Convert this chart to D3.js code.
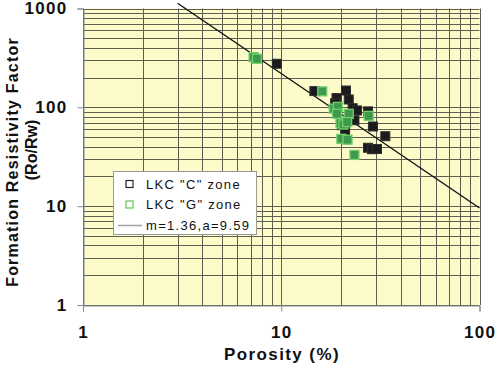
<!DOCTYPE html>
<html>
<head>
<meta charset="utf-8">
<script src="https://cdn.jsdelivr.net/npm/d3@7"></script>
<style>
   body { margin: 0; background: #fff; }
   svg text { font-family: Arial, "Liberation Sans", sans-serif; }
</style>
</head>
<body>
<svg id="chart" width="500" height="366"></svg>
<script>
// LKC "C" zone samples: porosity (%) and formation factor
var cPorosity = [9.5, 14.7, 21.2, 19.0, 21.9, 18.7, 22.9, 24.1, 27.4, 23.4, 29.0, 20.3, 21.0, 33.5, 27.4, 28.7, 30.4];
var cFactor   = [276, 146, 148, 124, 120, 110, 98, 93, 91, 74, 64, 66, 58, 51, 39, 37.7, 37.9];

// LKC "G" zone samples
var gPorosity = [7.25, 7.54, 16.1, 18.4, 19.3, 19.1, 21.9, 27.6, 19.9, 20.6, 21.5, 20.1, 21.6, 23.4];
var gFactor   = [322, 310, 145, 97, 101, 86, 86, 82, 69, 67, 71, 48, 47, 33];

// Archie fit F = a / phi^m (phi as fraction)
var fitM = 1.36,
    fitA = 9.59;
var fitRange = [3, 100];

var xTicks = [1, 10, 100];
var yTicks = [1, 10, 100, 1000];
var legendLabels = ['LKC "C" zone', 'LKC "G" zone', 'm=1.36,a=9.59'];

function drawChart() {
   var svg = d3.select('#chart');

   var x = d3.scaleLog().domain([1, 100]).range([83, 479.5]);
   var y = d3.scaleLog().domain([1, 1000]).range([305, 8.5]);

   // plot background
   svg.append('rect')
      .attr('x', x(1)).attr('y', y(1000))
      .attr('width', x(100) - x(1))
      .attr('height', y(1) - y(1000))
      .attr('fill', '#fefbcb');

   // grid on every log step
   var xGrid = x.ticks(), yGrid = y.ticks();
   svg.append('g').selectAll('line').data(xGrid).enter().append('line')
      .attr('x1', function(d) { return Math.round(x(d)) + 0.5; })
      .attr('x2', function(d) { return Math.round(x(d)) + 0.5; })
      .attr('y1', y(1000)).attr('y2', y(1))
      .attr('stroke', '#5e5e52').attr('stroke-width', 1);
   svg.append('g').selectAll('line').data(yGrid).enter().append('line')
      .attr('y1', function(d) { return Math.round(y(d)) + 0.5; })
      .attr('y2', function(d) { return Math.round(y(d)) + 0.5; })
      .attr('x1', x(1)).attr('x2', x(100))
      .attr('stroke', '#5e5e52').attr('stroke-width', 1);

   // axes
   var xAxis = d3.axisBottom(x).tickValues(xTicks).tickSize(6).tickFormat(d3.format('d'));
   var yAxis = d3.axisLeft(y).tickValues(yTicks).tickSize(6).tickFormat(d3.format('d'));

   var gx = svg.append('g').attr('transform', 'translate(0,' + (Math.round(y(1)) + 0.5) + ')').call(xAxis);
   var gy = svg.append('g').attr('transform', 'translate(' + (Math.round(x(1)) + 0.5) + ',0)').call(yAxis);

   [gx, gy].forEach(function(g) {
      g.select('.domain').attr('stroke', '#8a8a8a');
      g.selectAll('.tick line').attr('stroke', '#8a8a8a');
      g.selectAll('.tick text')
         .attr('fill', '#111')
         .style('font-size', '17px')
         .style('font-weight', 'bold')
         .style('letter-spacing', '1.3px');
   });
   gx.selectAll('.tick text').attr('y', 20);
   gy.selectAll('.tick text').attr('x', -16);

   // axis titles
   svg.append('text')
      .attr('x', 282).attr('y', 360)
      .attr('text-anchor', 'middle')
      .attr('fill', '#111')
      .style('font-size', '17px').style('font-weight', 'bold').style('letter-spacing', '1.4px')
      .text('Porosity (%)');

   svg.append('text')
      .attr('transform', 'translate(18,162) rotate(-90)')
      .attr('text-anchor', 'middle')
      .attr('fill', '#111')
      .style('font-size', '16px').style('font-weight', 'bold').style('letter-spacing', '1.2px')
      .text('Formation Resistivity Factor');

   svg.append('text')
      .attr('transform', 'translate(37,150) rotate(-90)')
      .attr('text-anchor', 'middle')
      .attr('fill', '#111')
      .style('font-size', '16px').style('font-weight', 'bold')
      .text('(Ro/Rw)');

   // fit line
   var fitLine = d3.line()
      .x(function(d) { return x(d); })
      .y(function(d) { return y(fitA / Math.pow(d / 100, fitM)); });

   svg.append('path')
      .datum(fitRange)
      .attr('d', fitLine)
      .attr('fill', 'none')
      .attr('stroke', '#111')
      .attr('stroke-width', 1.4);

   // points
   var s = 9;
   svg.append('g').selectAll('rect').data(d3.range(cPorosity.length)).enter().append('rect')
      .attr('x', function(i) { return x(cPorosity[i]) - s / 2; })
      .attr('y', function(i) { return y(cFactor[i]) - s / 2; })
      .attr('width', s).attr('height', s)
      .attr('fill', '#1b1b1b').attr('stroke', '#2e2e2e').attr('stroke-width', 1);

   svg.append('g').selectAll('rect').data(d3.range(gPorosity.length)).enter().append('rect')
      .attr('x', function(i) { return x(gPorosity[i]) - s / 2; })
      .attr('y', function(i) { return y(gFactor[i]) - s / 2; })
      .attr('width', s).attr('height', s)
      .attr('fill', '#3b9a4c').attr('stroke', '#74cf6a').attr('stroke-width', 1.3);

   // legend
   var lg = svg.append('g');
   lg.append('rect')
      .attr('x', 113.5).attr('y', 171.5)
      .attr('width', 143).attr('height', 63)
      .attr('fill', '#fff').attr('stroke', '#9a9a9a');

   var rowY = [184, 204.5, 225.5];
   lg.append('rect').attr('x', 126).attr('y', rowY[0] - 3.5).attr('width', 7).attr('height', 7)
      .attr('fill', 'none').attr('stroke', '#222').attr('stroke-width', 1.2);
   lg.append('rect').attr('x', 126).attr('y', rowY[1] - 3.5).attr('width', 7).attr('height', 7)
      .attr('fill', 'none').attr('stroke', '#66c455').attr('stroke-width', 1.2);
   lg.append('line').attr('x1', 118).attr('x2', 142).attr('y1', rowY[2]).attr('y2', rowY[2])
      .attr('stroke', '#a0a0a0').attr('stroke-width', 1.5);

   lg.selectAll('text.lab').data(legendLabels).enter().append('text')
      .attr('class', 'lab')
      .attr('x', 146)
      .attr('y', function(d, i) { return rowY[i] + 4.5; })
      .attr('fill', '#111')
      .style('font-size', '13px').style('letter-spacing', '1.3px')
      .text(function(d) { return d; });
}

drawChart();
</script>
</body>
</html>
